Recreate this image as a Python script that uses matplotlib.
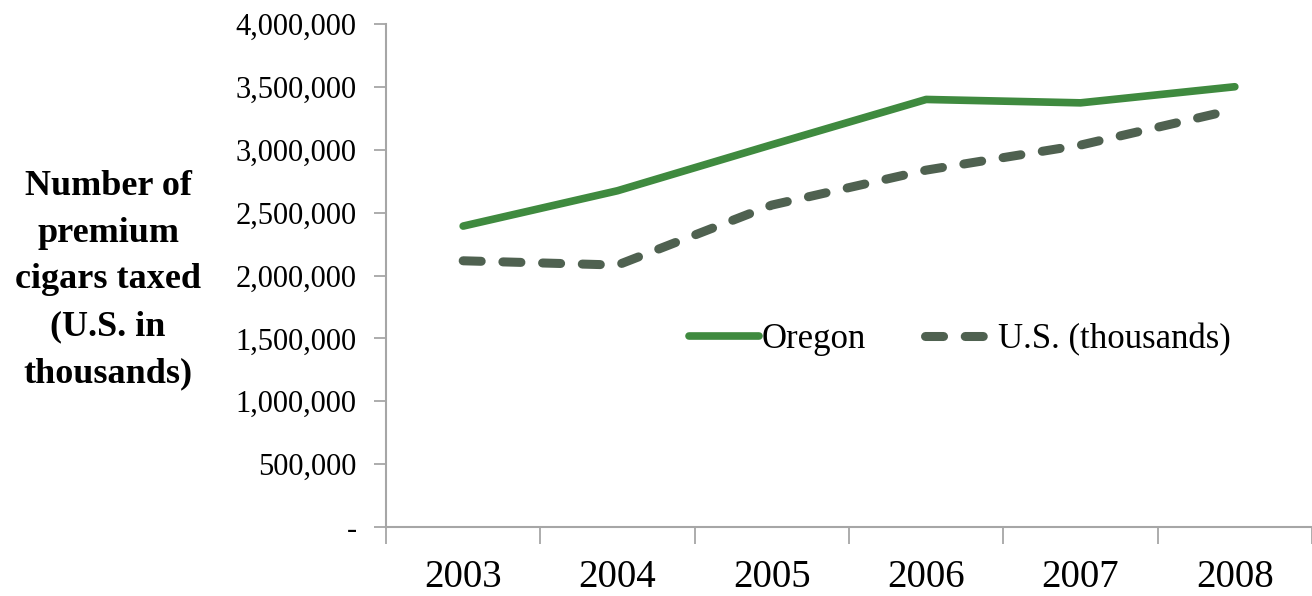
import numpy as np
import matplotlib.pyplot as plt
from matplotlib.ticker import FixedLocator, FuncFormatter

years = ["2003", "2004", "2005", "2006", "2007", "2008"]
oregon = [2393000, 2674000, 3040000, 3400000, 3373000, 3501000]
us_thousands = [2117000, 2083000, 2560000, 2838000, 3037000, 3321000]

plt.rcParams['font.family'] = ['Liberation Serif', 'DejaVu Serif']

fig = plt.figure(figsize=(13.12, 5.96), dpi=100)
ax = fig.add_axes([386/1312, 1 - 527/596, 926/1312, 503/596])

x = np.arange(len(years))
ax.plot(x, oregon, color="#3f8a3f", lw=5.5, solid_capstyle="round",
        solid_joinstyle="round", label="Oregon")
ax.plot(x, us_thousands, color="#4f6150", lw=6.5, dashes=(2, 2.4),
        dash_capstyle="round", label="U.S. (thousands)")

ax.set_xlim(-0.5, len(years) - 0.5)
ax.set_ylim(0, 4000000)

# category boundaries get the tick marks, centres get the labels
ax.xaxis.set_major_locator(FixedLocator(np.arange(len(years) + 1) - 0.5))
ax.xaxis.set_minor_locator(FixedLocator(x))
ax.set_xticklabels([])
ax.set_xticklabels(years, minor=True)
ax.tick_params(axis="x", which="major", length=12, width=1.3, color="#a6a6a6")
ax.tick_params(axis="x", which="minor", length=0, pad=23, labelsize=28)

ax.set_yticks(np.arange(0, 4000001, 500000))
ax.yaxis.set_major_formatter(FuncFormatter(lambda v, p: "-" if v == 0 else f"{int(v):,}"))
ax.tick_params(axis="y", length=9, width=1.3, color="#a6a6a6", labelsize=22, pad=12)

for s in ["top", "right"]:
    ax.spines[s].set_visible(False)
for s in ["left", "bottom"]:
    ax.spines[s].set_color("#a6a6a6")
    ax.spines[s].set_linewidth(1.5)

ax.legend(loc="center", bbox_to_anchor=(0.62, 0.372), ncol=2, frameon=False,
          fontsize=25, handlelength=2.0, handletextpad=0.1, columnspacing=1.7)

fig.text(108/1312, 1 - 280/596,
         "Number of\npremium\ncigars taxed\n(U.S. in\nthousands)",
         ha="center", va="center", fontsize=26, fontweight="bold",
         linespacing=1.55)

fig.savefig("out.png", dpi=100)
